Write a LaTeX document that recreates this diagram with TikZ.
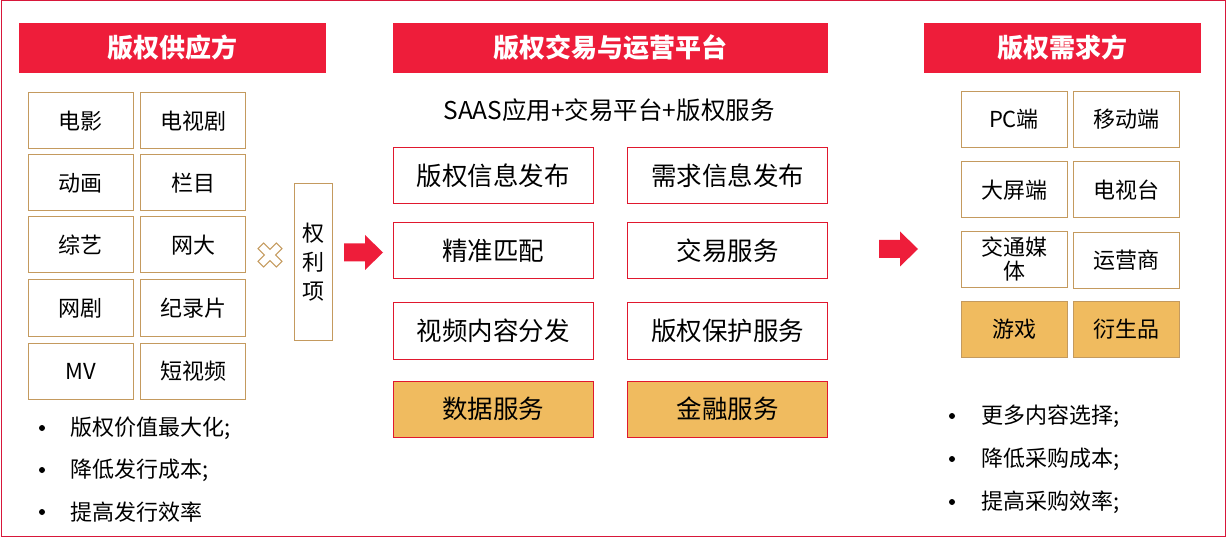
\documentclass[tikz,border=0pt]{standalone}
\usepackage{fontspec}
\setmainfont{Noto Sans CJK SC}
\definecolor{hdrred}{HTML}{EE1D3A}
\definecolor{tan}{HTML}{C49A5E}
\definecolor{midred}{HTML}{E0182E}
\definecolor{gold}{HTML}{F0BB5F}
\definecolor{frame}{HTML}{D8173A}
\tikzset{
  header/.style={fill=hdrred, text=white, font=\fontsize{26}{28}\selectfont\bfseries, minimum height=50pt, inner sep=0pt},
  lbox/.style={draw=tan, line width=1pt, minimum width=105pt, minimum height=56pt, inner sep=0pt, font=\fontsize{22}{25}\selectfont},
  mbox/.style={draw=midred, line width=1pt, minimum width=200pt, minimum height=56pt, inner sep=0pt, font=\fontsize{25.5}{28}\selectfont},
  goldfill/.style={fill=gold},
  bullettext/.style={anchor=west, inner sep=0pt, font=\fontsize{22}{25}\selectfont},
  bigarrow/.style={fill=hdrred, draw=none}
}
\begin{document}
\begin{tikzpicture}[x=1pt,y=-1pt]
\useasboundingbox (0,0) rectangle (1226,537);
\draw[frame, line width=1pt] (1,1) rectangle (1225,536);

% headers
\node[header, minimum width=307pt] (h1) at (172.5,48) {版权供应方};
\node[header, minimum width=435pt] (h2) at (610.5,48) {版权交易与运营平台};
\node[header, minimum width=277pt] (h3) at (1062.5,48) {版权需求方};

% left grid
\node[lbox] (l11) at (80.5,121) {电影};
\node[lbox] (l12) at (193,121) {电视剧};
\node[lbox] (l21) at (80.5,183) {动画};
\node[lbox] (l22) at (193,183) {栏目};
\node[lbox] (l31) at (80.5,245) {综艺};
\node[lbox] (l32) at (193,245) {网大};
\node[lbox] (l41) at (80.5,308) {网剧};
\node[lbox] (l42) at (193,308) {纪录片};
\node[lbox] (l51) at (80.5,371) {MV};
\node[lbox] (l52) at (193,371) {短视频};

% cross
\begin{scope}[shift={(270,255)}, rotate=45]
\draw[tan, line width=1pt] (-4,-13) -- (4,-13) -- (4,-4) -- (13,-4) -- (13,4) -- (4,4) -- (4,13) -- (-4,13) -- (-4,4) -- (-13,4) -- (-13,-4) -- (-4,-4) -- cycle;
\end{scope}

% rights box
\node[draw=tan, line width=1pt, minimum width=38pt, minimum height=156pt, inner sep=0pt, align=center, font=\fontsize{22}{29}\selectfont] (qly) at (313,262) {权\\利\\项};

% arrows
\fill[bigarrow] (344,243.5) -- (365,243.5) -- (365,235) -- (383,252.5) -- (365,270) -- (365,261.5) -- (344,261.5) -- cycle;
\fill[bigarrow] (879,240) -- (900,240) -- (900,231.5) -- (918,249) -- (900,266.5) -- (900,258) -- (879,258) -- cycle;

% middle
\node[inner sep=0pt, font=\fontsize{24.5}{27}\selectfont] (sub) at (609,110) {SAAS应用+交易平台+版权服务};
\node[mbox] (m11) at (493,176) {版权信息发布};
\node[mbox] (m12) at (727.5,176) {需求信息发布};
\node[mbox] (m21) at (493,251) {精准匹配};
\node[mbox] (m22) at (727.5,251) {交易服务};
\node[mbox] (m31) at (493,331) {视频内容分发};
\node[mbox] (m32) at (727.5,331) {版权保护服务};
\node[mbox, goldfill] (m41) at (493,409) {数据服务};
\node[mbox, goldfill] (m42) at (727.5,409) {金融服务};

% right grid
\node[lbox, minimum width=106pt] (r11) at (1014,119.5) {PC端};
\node[lbox, minimum width=106pt] (r12) at (1126,119.5) {移动端};
\node[lbox, minimum width=106pt] (r21) at (1014,190) {大屏端};
\node[lbox, minimum width=106pt] (r22) at (1126,190) {电视台};
\node[lbox, minimum width=106pt, align=center, font=\fontsize{22}{24}\selectfont] (r31) at (1014,259.5) {交通媒\\体};
\node[lbox, minimum width=106pt] (r32) at (1126,260.5) {运营商};
\node[lbox, minimum width=106pt, goldfill] (r41) at (1014,329.5) {游戏};
\node[lbox, minimum width=106pt, goldfill] (r42) at (1126,329.5) {衍生品};

% left bullets
\fill (42,428) circle (3pt);
\node[bullettext] (lt1) at (70,428) {版权价值最大化;};
\fill (42,470) circle (3pt);
\node[bullettext] (lt2) at (70,470) {降低发行成本;};
\fill (42,512) circle (3pt);
\node[bullettext] (lt3) at (70,512) {提高发行效率};

% right bullets
\fill (952,416) circle (3pt);
\node[bullettext] (rt1) at (981,416) {更多内容选择;};
\fill (952,459) circle (3pt);
\node[bullettext] (rt2) at (981,459) {降低采购成本;};
\fill (952,502) circle (3pt);
\node[bullettext] (rt3) at (981,502) {提高采购效率;};
\end{tikzpicture}
\end{document}
